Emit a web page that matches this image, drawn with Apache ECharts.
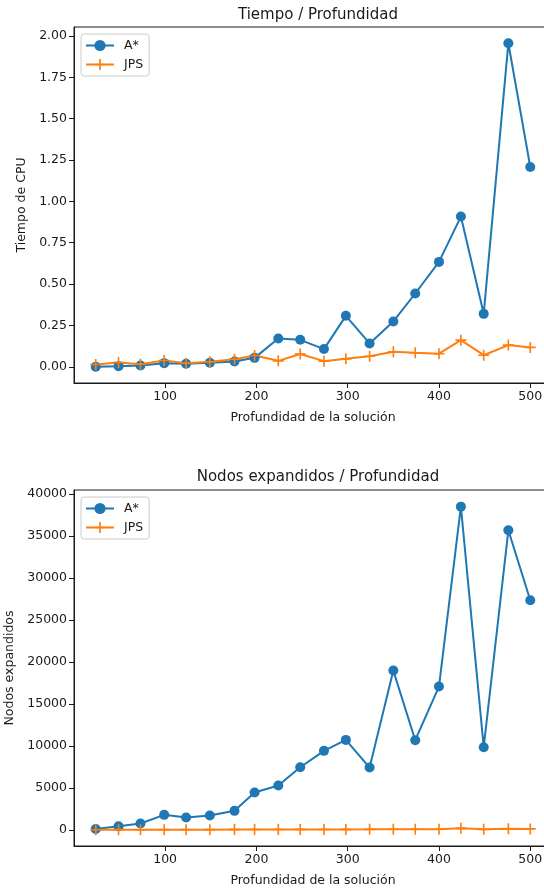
<!DOCTYPE html>
<html>
<head>
<meta charset="utf-8">
<script src="https://cdn.jsdelivr.net/npm/echarts@6/dist/echarts.min.js"></script>
<style>
html,body{margin:0;padding:0;background:#fff;}
#chart{width:544px;height:888px;}
</style>
</head>
<body>
<div id="chart"></div>
<script>
// Solution depth (x)
const depth = [24, 49, 73, 99, 123, 149, 176, 198, 224, 248, 274, 298, 324, 350, 374, 400, 424, 449, 476, 500];
// CPU time
const timeAstar = [0.000, 0.004, 0.008, 0.022, 0.018, 0.024, 0.032, 0.054, 0.171, 0.163, 0.107, 0.308, 0.141, 0.274, 0.443, 0.634, 0.908, 0.320, 1.956, 1.208];
const timeJPS   = [0.014, 0.026, 0.016, 0.038, 0.022, 0.030, 0.046, 0.068, 0.036, 0.077, 0.034, 0.048, 0.064, 0.091, 0.085, 0.079, 0.161, 0.070, 0.131, 0.117];
// Expanded nodes
const nodesAstar = [100, 436, 754, 1786, 1468, 1706, 2262, 4444, 5277, 7460, 9405, 10714, 7420, 18968, 10674, 17063, 38492, 9841, 35675, 27341];
const nodesJPS   = [10, 20, 15, 25, 20, 25, 30, 40, 35, 50, 40, 55, 60, 70, 75, 70, 180, 60, 120, 110];
// Tick labels
const xTicks = [100, 200, 300, 400, 500];
const timeTicks = [0, 0.25, 0.5, 0.75, 1.0, 1.25, 1.5, 1.75, 2.0];
const nodeTicks = [0, 5000, 10000, 15000, 20000, 25000, 30000, 35000, 40000];

const BLUE = '#1f77b4', ORANGE = '#ff7f0e', INK = '#1a1a1a';
const FONT = 'DejaVu Sans';
const PLUS = 'path://M8.5,0h3v8.5h8.5v3h-8.5v8.5h-3v-8.5h-8.5v-3h8.5z';

function zip(xs, ys){ return xs.map((x,i)=>[x, ys[i]]); }

function xAxis(gridIndex){
  return {
    type:'value', gridIndex, min:0.2, max:523.8,
    name:'Profundidad de la solución', nameLocation:'middle', nameGap:28,
    nameTextStyle:{fontFamily:FONT, fontSize:12.5, color:INK},
    axisLine:{show:true, onZero:false, lineStyle:{color:INK, width:1}},
    axisTick:{show:true, length:5, customValues:xTicks, lineStyle:{color:INK}},
    axisLabel:{show:true, customValues:xTicks, margin:7, fontFamily:FONT, fontSize:12.5, color:INK},
    splitLine:{show:false}
  };
}
function yAxis(gridIndex, min, max, ticks, name, gap, fmt){
  return {
    type:'value', gridIndex, min, max,
    name, nameLocation:'middle', nameGap:gap, nameRotate:90,
    nameTextStyle:{fontFamily:FONT, fontSize:12.5, color:INK},
    axisLine:{show:true, onZero:false, lineStyle:{color:INK, width:1}},
    axisTick:{show:true, length:5, customValues:ticks, lineStyle:{color:INK}},
    axisLabel:{show:true, customValues:ticks, margin:7, fontFamily:FONT, fontSize:12.5, color:INK, formatter:fmt},
    splitLine:{show:false}
  };
}
function legend(top){
  return {
    orient:'vertical', left:81, top,
    padding:[5,6,5,4], itemGap:6, itemWidth:28, itemHeight:14,
    backgroundColor:'rgba(255,255,255,0.8)', borderColor:'#cccccc', borderWidth:1, borderRadius:3,
    textStyle:{fontFamily:FONT, fontSize:12.5, color:INK, padding:[0,0,0,5]},
    data:['A*','JPS']
  };
}
function seriesPair(idx, a, j){
  return [
    {name:'A*', type:'line', xAxisIndex:idx, yAxisIndex:idx, data:zip(depth,a),
     symbol:'circle', symbolSize:10, showSymbol:true, animation:false,
     lineStyle:{color:BLUE, width:2}, itemStyle:{color:BLUE}},
    {name:'JPS', type:'line', xAxisIndex:idx, yAxisIndex:idx, data:zip(depth,j),
     symbol:PLUS, symbolSize:11, showSymbol:true, animation:false,
     lineStyle:{color:ORANGE, width:2}, itemStyle:{color:ORANGE}}
  ];
}
function grid(top){
  return {left:74, top, width:478, height:356, containLabel:false, outerBoundsMode:'none',
          show:true, borderColor:INK, borderWidth:1, backgroundColor:'transparent'};
}

const chart = echarts.init(document.getElementById('chart'), null, {renderer:'canvas'});
chart.setOption({
  backgroundColor:'#ffffff',
  animation:false,
  title:[
    {text:'Tiempo / Profundidad', left:313, top:3, textAlign:'center',
     textStyle:{fontFamily:FONT, fontSize:15, fontWeight:'normal', color:INK}},
    {text:'Nodos expandidos / Profundidad', left:313, top:465, textAlign:'center',
     textStyle:{fontFamily:FONT, fontSize:15, fontWeight:'normal', color:INK}}
  ],
  legend:[ legend(34), legend(497) ],
  grid:[ grid(27), grid(490) ],
  xAxis:[xAxis(0), xAxis(1)],
  yAxis:[
    yAxis(0, -0.098, 2.054, timeTicks, 'Tiempo de CPU', 46, v=>v.toFixed(2)),
    yAxis(1, -1925, 40476, nodeTicks, 'Nodos expandidos', 58, v=>String(v))
  ],
  series:[...seriesPair(0, timeAstar, timeJPS), ...seriesPair(1, nodesAstar, nodesJPS)]
});
</script>
</body>
</html>
